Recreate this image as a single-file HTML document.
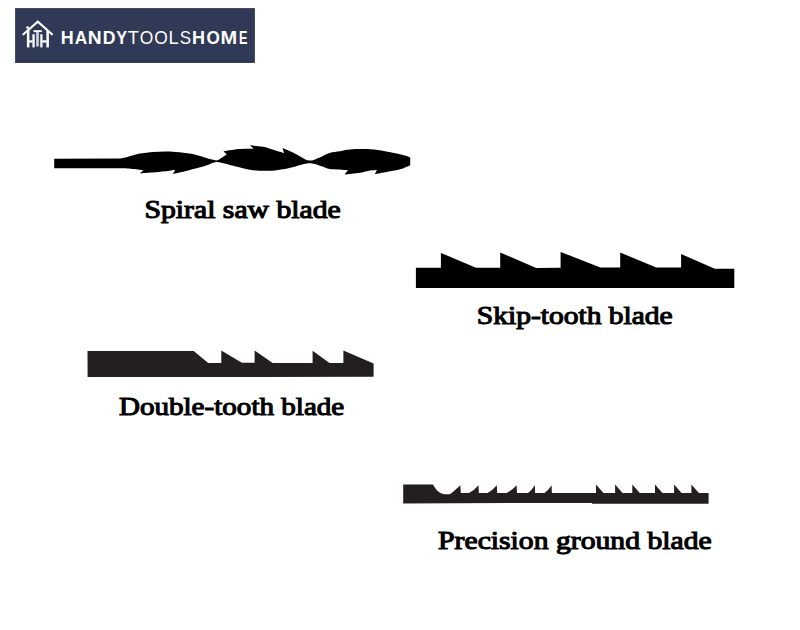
<!DOCTYPE html>
<html><head><meta charset="utf-8"><style>
html,body{margin:0;padding:0;background:#fff;width:800px;height:630px;overflow:hidden}
svg{display:block}
</style></head><body>
<svg width="800" height="630" viewBox="0 0 800 630">
<rect x="0" y="0" width="800" height="630" fill="#fff"/>
<rect x="15.1" y="8.1" width="239.8" height="54.6" fill="#303956"/>
<rect x="15.1" y="61.6" width="239.8" height="1.1" fill="#2a2f47"/>
<g fill="none" stroke="#fff" stroke-width="2.1" stroke-linecap="round" stroke-linejoin="miter">
<path d="M23.4,34.3 L37.8,21.6 L52,34.3"/>
</g>
<g fill="#fff">
<circle cx="27.6" cy="27.6" r="1.35"/>
<rect x="26.9" y="30" width="2.5" height="17.4"/>
<rect x="27.6" y="40.3" width="5" height="2.3"/>
<rect x="32.4" y="34.2" width="2.3" height="13.2"/>
<rect x="33.5" y="30.2" width="8.3" height="1.9"/>
<rect x="36.2" y="32" width="2.6" height="14.4" fill="#d4d4e6"/>
<rect x="40.3" y="34.2" width="2.2" height="13.2"/>
<rect x="42.3" y="40.3" width="4.3" height="2.3"/>
<rect x="46.4" y="30.5" width="2.5" height="16.9"/>
</g>
<g font-family="Liberation Sans, sans-serif" fill="#fff">
<text transform="translate(60.71,43.50) scale(0.971,1)" font-size="18.4" font-weight="bold">H</text>
<text transform="translate(74.87,43.50) scale(0.940,1)" font-size="18.4" font-weight="bold">A</text>
<text transform="translate(87.81,43.50) scale(1.045,1)" font-size="18.4" font-weight="bold">N</text>
<text transform="translate(102.72,43.50) scale(0.957,1)" font-size="18.4" font-weight="bold">D</text>
<text transform="translate(116.32,43.50) scale(0.883,1)" font-size="18.4" font-weight="bold">Y</text>
<text transform="translate(127.79,43.50) scale(1.000,1)" font-size="18.4">T</text>
<text transform="translate(139.87,43.50) scale(0.947,1)" font-size="18.4">O</text>
<text transform="translate(154.27,43.50) scale(0.947,1)" font-size="18.4">O</text>
<text transform="translate(168.51,43.50) scale(0.986,1)" font-size="18.4">L</text>
<text transform="translate(179.73,43.50) scale(0.925,1)" font-size="18.4">S</text>
<text transform="translate(192.09,43.50) scale(0.980,1)" font-size="18.4" font-weight="bold">H</text>
<text transform="translate(206.40,43.50) scale(0.931,1)" font-size="18.4" font-weight="bold">O</text>
<text transform="translate(220.56,43.50) scale(1.088,1)" font-size="18.4" font-weight="bold">M</text>
<text transform="translate(239.05,43.50) scale(0.688,1)" font-size="18.4" font-weight="bold">E</text>
</g>
<path d="M54.2,158.8 L120.5,158.5 C121.7,158.2 124.2,157.7 127.5,156.9 C130.8,156.1 135.8,154.4 140.0,153.6 C144.2,152.8 148.3,152.4 152.5,152.0 C156.7,151.6 161.1,151.4 165.0,151.4 C168.9,151.4 171.3,151.5 175.7,151.9 C180.1,152.3 186.6,152.9 191.2,153.8 C195.9,154.6 200.6,156.3 203.8,157.2 C206.9,158.1 207.9,158.5 210.0,159.1 C212.1,159.7 215.2,160.3 216.3,160.6 C216.9,160.3 218.2,159.9 220.0,158.9 C221.8,157.9 225.7,155.3 226.8,154.6 L223.4,151.3 C225.3,151.0 231.0,149.8 235.0,149.4 C239.0,149.0 244.4,148.9 247.5,148.8 C250.6,148.7 252.8,148.9 253.8,148.9 L250.0,145.3 C252.2,145.6 258.7,145.9 263.1,146.8 C267.5,147.7 272.7,149.7 276.2,150.7 C279.7,151.7 282.7,152.6 284.0,153.0 L282.5,148.0 C284.1,148.7 288.9,150.6 291.9,152.0 C294.9,153.4 297.7,155.3 300.6,156.7 C303.5,158.1 306.4,160.4 309.5,160.6 C312.6,160.8 315.7,159.0 319.0,157.7 C322.3,156.4 326.0,154.0 329.5,152.9 C333.0,151.8 336.6,151.8 340.0,151.2 C343.4,150.6 345.0,149.7 350.0,149.4 C355.0,149.1 364.2,149.0 370.0,149.3 C375.8,149.6 380.0,150.4 385.0,151.2 C390.0,152.0 396.2,153.3 400.0,154.2 C403.8,155.1 406.7,156.0 408.0,156.4 L410.2,157.5 L410.2,165.3 L407.5,166.4 C406.2,166.9 403.1,168.5 400.0,169.3 C396.9,170.2 392.1,170.8 388.8,171.5 C385.4,172.2 382.3,172.8 380.0,173.2 C377.7,173.6 375.8,173.9 374.9,174.1 L376.9,170.0 C375.8,170.1 372.8,170.1 370.0,170.6 C367.2,171.1 364.2,172.1 360.0,172.8 C355.8,173.5 347.2,174.3 344.6,174.6 L348.0,170.1 C345.0,169.9 334.2,169.6 330.0,169.0 C325.8,168.4 325.0,167.4 322.5,166.6 C320.0,165.8 317.2,164.6 315.0,164.0 C312.8,163.4 311.4,163.2 309.5,163.2 C307.6,163.2 306.0,163.6 303.8,164.1 C301.5,164.6 299.4,165.5 296.2,166.3 C293.1,167.1 289.8,168.2 285.0,168.9 C280.2,169.7 273.3,170.7 267.5,170.8 C261.7,171.0 255.4,170.6 250.0,169.8 C244.6,169.1 239.1,167.3 235.0,166.3 C230.9,165.3 228.7,164.5 225.6,163.8 C222.5,163.1 219.4,161.8 216.3,162.0 C213.2,162.2 210.0,164.3 206.9,165.3 C203.8,166.3 201.2,167.1 197.5,168.1 C193.8,169.1 189.1,170.3 185.0,171.3 C180.9,172.3 174.8,173.6 172.8,174.0 L175.3,169.7 C173.6,170.0 168.8,170.8 165.0,171.3 C161.2,171.8 156.7,172.2 152.5,172.6 C148.3,172.9 141.8,173.3 139.7,173.4 L143.4,170.3 C141.8,170.1 137.3,169.3 133.8,169.0 C130.2,168.7 124.0,168.3 122.0,168.2 L54.2,168.2 Z" fill="#000"/>
<path d="M415.9,267.7 L440.9,267.7 L440.9,252.9 L476,267.7 L500.2,267.8 L500.2,252.5 L536.2,267.9 L560.6,267.8 L560.6,251.9 L600.4,267.6 L620.2,267.5 L620.2,252.5 L656.2,267.5 L681.1,267.6 L681.1,254.1 L714.8,268.8 L734.3,268.8 L734.3,288.1 L415.9,288.1 Z" fill="#000"/>
<path d="M87.5,351.1 L193.7,351.1 L208.2,363 L221.3,363 L221.3,350.6 L241.9,362.7 L254.6,362.7 L254.6,350.6 L272.7,362.9 L312.6,362.9 L312.6,350.8 L329.5,363 L343.4,363 L343.4,350.6 L373.6,363.4 L373.6,376.8 L87.6,377 Z" fill="#231f20"/>
<path d="M403.2,484.5 L433,484.5 C435.5,489.5 439.5,494.2 446,494.2 C448.5,494.2 449.8,494 451,493.4 Q455.4,489.8 460.4,485.2 L460.8,493.0 L469.0,493.0 Q474.5,490.0 478.5,485.2 L478.9,493.0 L487.5,493.0 Q492.9,490.0 496.8,485.2 L497.2,493.0 L506.6,493.0 Q512.4,490.0 516.6,485.2 L517.0,493.0 L528.0,493.0 Q531.9,490.0 534.8,485.2 L535.2,493.0 L544.5,493.0 Q548.6,490.0 551.5,485.2 L551.9,493.0 L592.3,493.0 L596.0,493.0 L596.0,484.4 L603.5,493.0 L615.1,493.0 L615.1,484.4 L622.6,493.0 L632.3,493.0 L632.3,484.4 L639.8,493.0 L655.0,493.0 L655.0,484.4 L662.5,493.0 L674.1,493.0 L674.1,484.4 L681.6,493.0 L691.4,493.0 L691.4,484.4 L698.9,493.0 L708.6,493.0 L708.6,503.7 L592.1,503.7 L592.1,502.9 L403.2,503.4 Z" fill="#231f20"/>
<g font-family="Liberation Serif, serif" font-weight="normal" font-size="26.0" fill="#000" stroke="#000" stroke-width="1.1">
<text transform="translate(144.46,218.20) scale(1.1433,1)">Spiral saw blade</text>
<text transform="translate(476.76,324.40) scale(1.1357,1)">Skip-tooth blade</text>
<text transform="translate(118.90,415.20) scale(1.1194,1)">Double-tooth blade</text>
<text transform="translate(438.10,549.40) scale(1.1417,1)">Precision ground blade</text>

</g>
</svg>
</body></html>
